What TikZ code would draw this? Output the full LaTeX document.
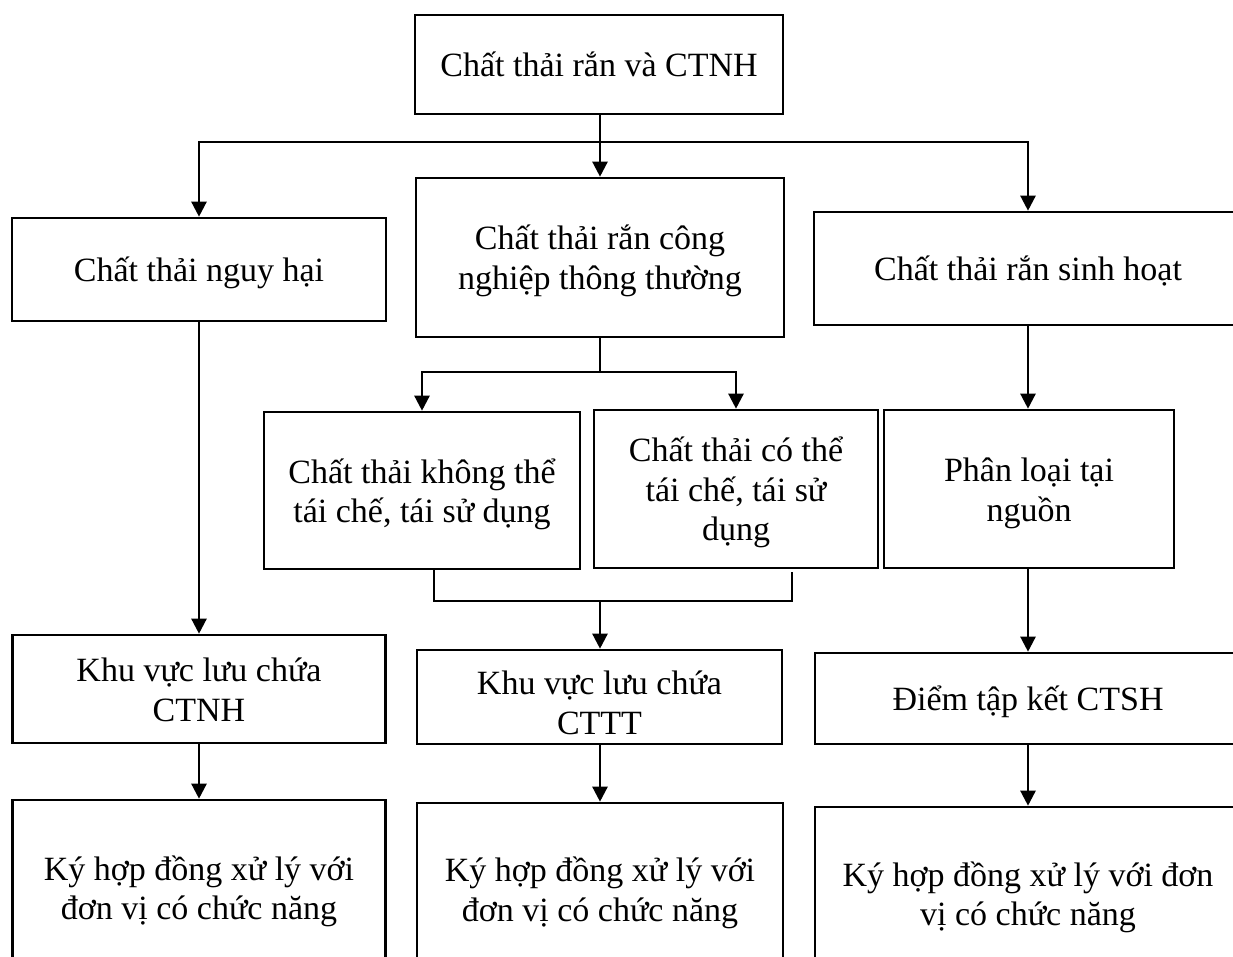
\documentclass[tikz,border=0pt]{standalone}
\usepackage{fontspec}
\setmainfont{Liberation Serif}
\usetikzlibrary{arrows.meta}

% line struts: every text line gets the same height and depth,
% so multi-line labels sit evenly inside their boxes
\newcommand{\lstrut}{\rule[-7.5pt]{0pt}{39.5pt}}
\newcommand{\tallstrut}{\rule[-7.5pt]{0pt}{49.5pt}}

\tikzset{
  box/.style={draw=black, line width=2.6pt, inner sep=0pt, align=center,
              font=\fontsize{34}{39.5}\selectfont},
  arr/.style={draw=black, line width=2.4pt, -{Triangle[length=15pt,width=15pt]}},
  wire/.style={draw=black, line width=2.4pt}
}

\begin{document}
\begin{tikzpicture}[x=1pt, y=-1pt]
\useasboundingbox (0,0) rectangle (1233,957);
\clip (0,0) rectangle (1233,957);
\fill[white] (0,0) rectangle (1233,957);

% ---- level 0 ----
\node[box, minimum width=368pt, minimum height=99pt] (top) at (599,64.5)
  {Chất thải rắn và CTNH\lstrut};

% ---- level 1 ----
\node[box, minimum width=374pt, minimum height=103pt] (haz) at (199,269.5)
  {Chất thải nguy hại\lstrut};
\node[box, minimum width=368pt, minimum height=159pt] (ind) at (600,257.5)
  {Chất thải rắn công\lstrut\\nghiệp thông thường\lstrut};
\node[box, minimum width=428pt, minimum height=113pt] (dom) at (1028,268.5)
  {Chất thải rắn sinh hoạt\lstrut};

% ---- level 2 ----
\node[box, minimum width=316pt, minimum height=157pt] (nrec) at (422,490.5)
  {Chất thải không thể\lstrut\\tái chế, tái sử dụng\lstrut};
\node[box, minimum width=284pt, minimum height=158pt] (rec) at (736,489)
  {Chất thải có thể\lstrut\\tái chế, tái sử\lstrut\\dụng\lstrut};
\node[box, minimum width=290pt, minimum height=158pt] (sort) at (1029,489)
  {Phân loại tại\lstrut\\nguồn\lstrut};

% ---- level 3 ----
\node[box, minimum width=373pt, minimum height=108pt] (storeH) at (199,689)
  {Khu vực lưu chứa\lstrut\\CTNH\lstrut};
\node[box, minimum width=365pt, minimum height=94pt] (storeT) at (599.5,697)
  {Khu vực lưu chứa\tallstrut\\CTTT\lstrut};
\node[box, minimum width=426pt, minimum height=91pt] (storeS) at (1028,698.5)
  {Điểm tập kết CTSH\lstrut};

% ---- level 4 ----
\node[box, minimum width=373pt, minimum height=175pt] (endH) at (199,887.5)
  {Ký hợp đồng xử lý với\lstrut\\đơn vị có chức năng\lstrut};
\node[box, minimum width=366pt, minimum height=172pt] (endT) at (600,889)
  {Ký hợp đồng xử lý với\lstrut\\đơn vị có chức năng\lstrut};
\node[box, minimum width=426pt, minimum height=173pt] (endS) at (1028,893.5)
  {Ký hợp đồng xử lý với đơn\lstrut\\vị có chức năng\lstrut};

% ---- junction points ----
\coordinate (j1) at (600,142);
\coordinate (j2) at (600,372);
\coordinate (m1) at (434,601);
\coordinate (m2) at (792,601);
\coordinate (j3) at (600,601);

% ---- connectors ----
\draw[wire] (top.south -| j1) -- (j1);
\draw[arr] (j1) -| (haz.north);
\draw[arr] (j1) -- (ind.north -| j1);
\draw[arr] (j1) -| (dom.north);

\draw[wire] (ind.south -| j2) -- (j2);
\draw[arr] (j2) -| (nrec.north);
\draw[arr] (j2) -| (rec.north);

\draw[wire] (nrec.south -| m1) -- (m1) -- (m2) -- ([yshift=-3pt]rec.south -| m2);
\draw[arr] (j3) -- (storeT.north -| j3);

\draw[arr] (haz.south) -- (haz.south |- storeH.north);
\draw[arr] (dom.south) -- (dom.south |- sort.north);
\draw[arr] (sort.south -| storeS.north) -- (storeS.north);

\draw[arr] (storeH.south) -- (endH.north);
\draw[arr] (storeT.south -| j3) -- (endT.north -| j3);
\draw[arr] (storeS.south) -- (endS.north);
\end{tikzpicture}
\end{document}
